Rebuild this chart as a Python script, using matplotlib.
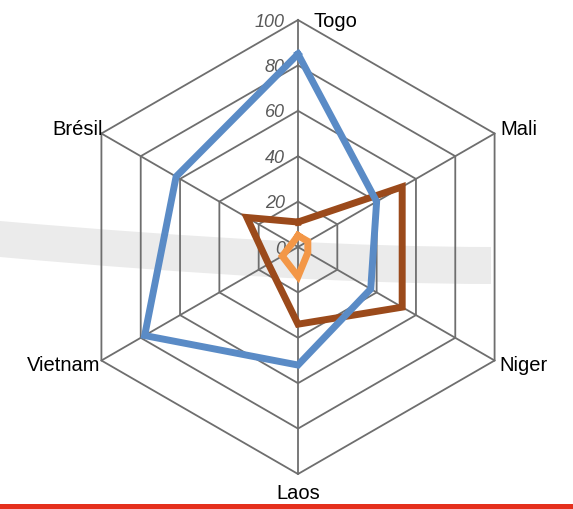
import numpy as np
import matplotlib.pyplot as plt
from matplotlib.path import Path
import matplotlib.patches as mpatches

plt.rcParams["font.family"] = ["Liberation Sans", "DejaVu Sans"]

categories = ["Togo", "Mali", "Niger", "Laos", "Vietnam", "Brésil"]
series_blue = [85, 40, 37, 52, 78, 62]
series_brown = [11, 53, 53, 34, 15, 26]
series_orange = [5, 5, 5, 13, 8, 3]
ticks = [0, 20, 40, 60, 80, 100]

# geometry in pixels (figure is 573 x 510)
W, H = 573, 510
cx, cy = 298, 248
scale = 2.27  # pixels per unit

fig = plt.figure(figsize=(W / 100, H / 100), dpi=100)

# background decoration: grey swoosh and red bottom bar
bg = fig.add_axes([0, 0, 1, 1], zorder=0)
bg.set_xlim(0, W)
bg.set_ylim(H, 0)
bg.axis("off")
verts = [(0, 222), (300, 248), (491, 248), (491, 285), (300, 285), (0, 258), (0, 222)]
codes = [Path.MOVETO, Path.CURVE3, Path.CURVE3, Path.LINETO,
         Path.CURVE3, Path.CURVE3, Path.CLOSEPOLY]
bg.add_patch(mpatches.PathPatch(Path(verts, codes), facecolor="#ebebeb", edgecolor="none"))
bg.add_patch(mpatches.Rectangle((0, 505), W, 6, facecolor="#e5301d", edgecolor="none"))

# radar axes in data units
ax = fig.add_axes([0, 0, 1, 1], zorder=1)
ax.patch.set_alpha(0)
ax.set_xlim(-cx / scale, (W - cx) / scale)
ax.set_ylim(-(H - cy) / scale, cy / scale)
ax.axis("off")

angles = np.deg2rad([90, 30, -30, -90, -150, 150])
ux, uy = np.cos(angles), np.sin(angles)

grid_color = "#6e6e6e"
for t in ticks[1:]:
    ax.plot(np.append(ux * t, ux[0] * t), np.append(uy * t, uy[0] * t),
            color=grid_color, lw=1.3, zorder=1)
for i in range(len(categories)):
    ax.plot([0, ux[i] * 100], [0, uy[i] * 100], color=grid_color, lw=1.3, zorder=1)

for t in ticks:
    ax.annotate(str(t), (0, t), xytext=(-13, -1), textcoords="offset pixels",
                ha="right", va="center", fontsize=13, style="italic", color="#595959")


def draw(values, color):
    v = np.array(values, dtype=float)
    ax.plot(np.append(ux * v, ux[0] * v[0]), np.append(uy * v, uy[0] * v[0]),
            color=color, lw=5, solid_joinstyle="miter", zorder=3)


draw(series_brown, "#9b4a1b")
draw(series_orange, "#f39747")
draw(series_blue, "#5a8bc6")

label_style = [
    ((15, 0), "left", "center"),
    ((6, 5), "left", "center"),
    ((5, -4), "left", "center"),
    ((0, -9), "center", "top"),
    ((-1, -4), "right", "center"),
    ((1, 5), "right", "center"),
]
for i, name in enumerate(categories):
    off, ha, va = label_style[i]
    ax.annotate(name, (ux[i] * 100, uy[i] * 100), xytext=off, textcoords="offset pixels",
                ha=ha, va=va, fontsize=14.5, color="black")

fig.savefig("out.png", dpi=100)
